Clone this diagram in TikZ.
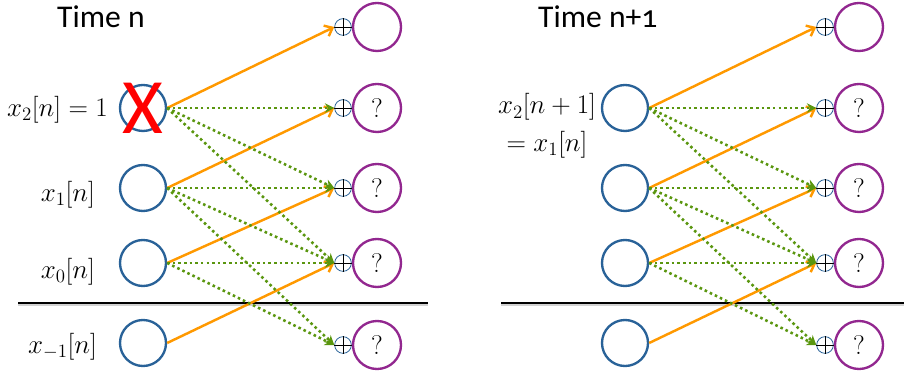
\RequirePackage{fix-cm}
\documentclass[tikz,border=0pt]{standalone}
\usepackage{fontspec}
\newfontfamily\titlefont[Numbers=OldStyle]{Carlito}
\usetikzlibrary{arrows.meta}

\definecolor{cellblue}{RGB}{41,98,152}
\definecolor{outpurple}{RGB}{146,39,143}
\definecolor{shiftorange}{RGB}{255,153,0}
\definecolor{mixgreen}{RGB}{90,150,15}

\tikzset{
  cell/.style={circle, draw=cellblue, line width=2pt, minimum size=1.38cm, inner sep=0pt},
  outcell/.style={circle, draw=outpurple, line width=2pt, minimum size=1.44cm, inner sep=0pt},
  adder/.style={circle, draw=cellblue, line width=0.7pt, minimum size=0.5cm, inner sep=0pt},
  shiftarrow/.style={draw=shiftorange, line width=2.1pt, -{Straight Barb[length=6pt,width=10pt]}},
  mixarrow/.style={draw=mixgreen, line width=2.2pt, dash pattern=on 2.2pt off 2.6pt, -{Stealth[length=8pt,width=8pt]}},
  title/.style={anchor=base west, inner sep=0pt, font=\titlefont\fontsize{27}{30}\selectfont},
}

\begin{document}
\begin{tikzpicture}[x=0.03cm, y=-0.03cm, font=\fontsize{23}{32}\selectfont]
    \useasboundingbox (0,0) rectangle (904,375);

    % Time lines
    \draw[gray!35, line width=2.5pt] (18,305) -- (428,305);
    \draw[black, line width=2.5pt] (18,303) -- (428,303);
    \draw[gray!35, line width=2.5pt] (501,305) -- (904,305);
    \draw[black, line width=2.5pt] (501,303) -- (904,303);

    % Both time steps
    \foreach \p/\dx in {L/0, R/482} {
        % output column
        \foreach \k/\y/\t in {0/27/{}, 1/108/?, 2/188/?, 3/263/?, 4/345/?} {
            \node[adder] (\p p\k) at (343+\dx,\y) {};
            \draw[black, line width=0.7pt] (\p p\k.north) -- (\p p\k.south)
                (\p p\k.west) -- (\p p\k.east);
            \node[outcell] (\p o\k) at (377+\dx,\y) {\t};
        }
        % state cells
        \foreach \k/\y in {1/108, 2/188, 3/263, 4/343}
            \node[cell] (\p i\k) at (143+\dx,\y) {};
        % connections
        \foreach \k/\j in {1/0, 2/1, 3/2, 4/3}
            \draw[shiftarrow] (\p i\k.east) -- (\p p\j.west);
        \foreach \k/\j in {1/1, 1/2, 1/3, 2/2, 2/3, 2/4, 3/3, 3/4}
            \draw[mixarrow] (\p i\k.east) -- (\p p\j.west);
    }

    % Time n
    \node[title] (tn) at (57,28) {Time n};
    \node[anchor=east] (lab2) at (112,110) {$x_2[n]=1$};
    \node[anchor=east] (lab1) at (99,195) {$x_1[n]$};
    \node[anchor=east] (lab0) at (99,272) {$x_0[n]$};
    \node[anchor=east] (labm) at (101,347) {$x_{-1}[n]$};
    \node[text=red, inner sep=0pt, font=\titlefont\fontsize{67}{67}\selectfont] (cross) at (Li1) {X};

    % Time n+1
    \node[title] (tn1) at (538,28) {Time n+1};
    \node[align=center] (labr) at (547,126) {$x_2[n+1]$\\$=x_1[n]$};
\end{tikzpicture}
\end{document}
